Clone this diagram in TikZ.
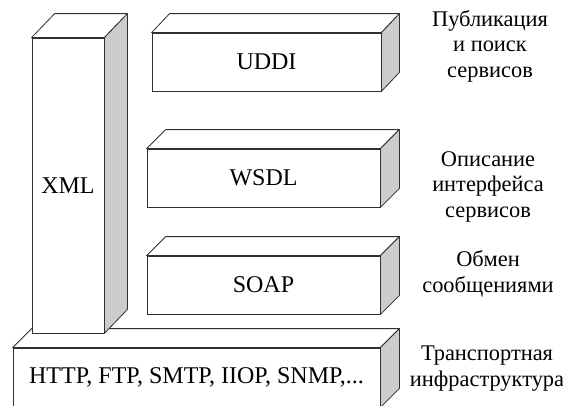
\documentclass[tikz,border=0pt]{standalone}
\usepackage{fontspec}
\setmainfont{Liberation Serif}
\definecolor{edge}{HTML}{303030}
\definecolor{sidegray}{HTML}{CCCCCC}
\tikzset{
  face/.style={draw=edge, fill=white, line width=0.6pt, inner sep=0pt,
    font=\fontsize{18}{19}\selectfont},
  topface/.style={draw=edge, fill=white, line width=0.6pt, line join=round},
  sideface/.style={draw=edge, fill=sidegray, line width=0.6pt, line join=round},
  lbl/.style={align=center, anchor=base, inner sep=0pt,
    font=\fontsize{16.8}{19.1}\selectfont}
}
% name, x1, y1, x2, y2, dx, dy, text
\newcommand\slabbox[8]{%
  \node[face, minimum width={(#4-#2)*0.75pt}, minimum height={(#5-#3)*0.75pt}]
    (#1) at ({(#2+#4)/2},{(#3+#5)/2}) {#8};
  \draw[topface] (#1.north west) -- ++(#6,-#7) -- ([shift={(#6,-#7)}]#1.north east)
    -- (#1.north east) -- cycle;
  \draw[sideface] (#1.north east) -- ++(#6,-#7) -- ([shift={(#6,-#7)}]#1.south east)
    -- (#1.south east) -- cycle;
}
\begin{document}
\begin{tikzpicture}[x=0.75pt,y=-0.75pt]
\path[use as bounding box] (0,0) rectangle (563,405);
\clip (0,0) rectangle (563,405);
\slabbox{http}{13}{348}{380}{407}{19}{19}{HTTP, FTP, SMTP, IIOP, SNMP,...}
\slabbox{xml}{32}{38}{104}{333}{23}{24}{XML}
\slabbox{uddi}{152}{33}{381}{91}{18}{19}{UDDI}
\slabbox{wsdl}{147}{149}{380}{207}{19}{19}{WSDL}
\slabbox{soap}{147}{256}{380}{314}{19}{19}{SOAP}
\node[lbl] (l1) at (490,77) {Публикация\\и поиск\\сервисов};
\node[lbl] (l2) at (488,217) {Описание\\интерфейса\\сервисов};
\node[lbl] (l3) at (488,292) {Обмен\\сообщениями};
\node[lbl] (l4) at (487,386) {Транспортная\\инфраструктура};
\end{tikzpicture}
\end{document}
